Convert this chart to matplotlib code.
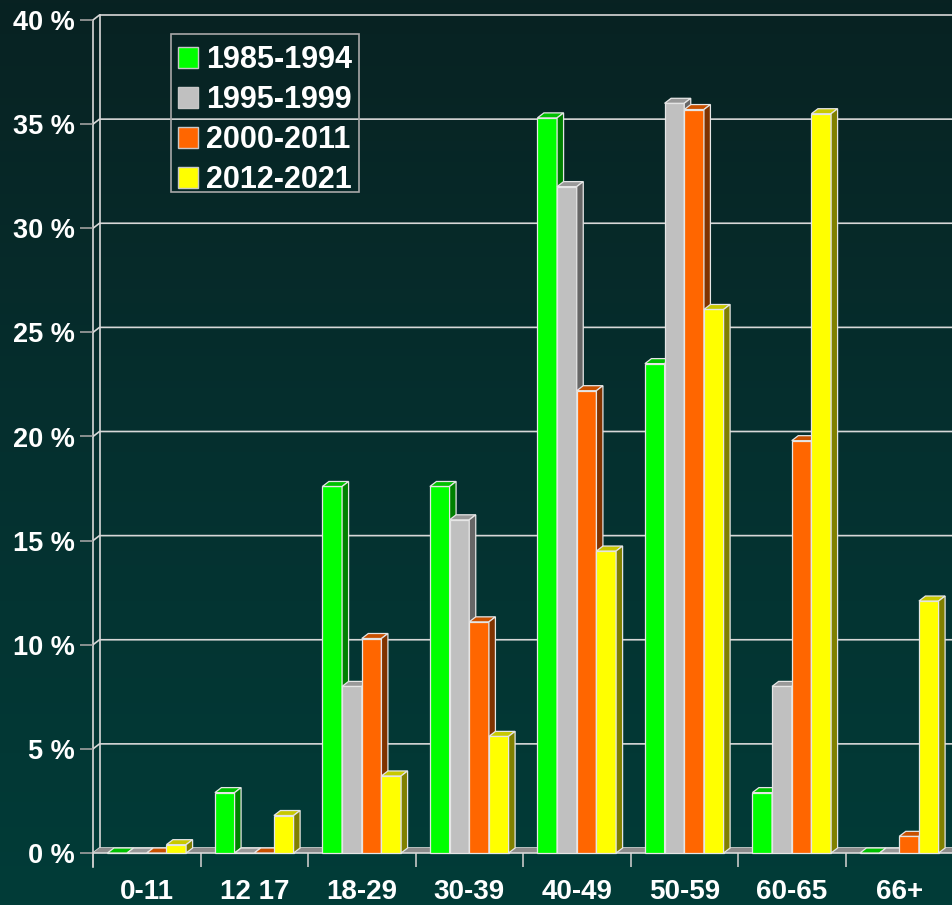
import numpy as np
import matplotlib
matplotlib.use("Agg")
import matplotlib.pyplot as plt
from matplotlib.patches import Polygon, Patch, Rectangle
from matplotlib.colors import LinearSegmentedColormap

categories = ["0-11", "12 17", "18-29", "30-39", "40-49", "50-59", "60-65", "66+"]
series_names = ["1985-1994", "1995-1999", "2000-2011", "2012-2021"]
s1985 = [0.0, 2.9, 17.6, 17.6, 35.3, 23.5, 2.9, 0.0]
s1995 = [0.0, 0.0, 8.0, 16.0, 32.0, 36.0, 8.0, 0.0]
s2000 = [0.0, 0.0, 10.3, 11.1, 22.2, 35.7, 19.8, 0.8]
s2012 = [0.4, 1.8, 3.7, 5.6, 14.5, 26.1, 35.5, 12.1]
yticks = [0, 5, 10, 15, 20, 25, 30, 35, 40]
ytick_labels = ["0 %", "5 %", "10 %", "15 %", "20 %", "25 %", "30 %", "35 %", "40 %"]

series = [s1985, s1995, s2000, s2012]
front_cols = ["#00ff00", "#c0c0c0", "#ff6600", "#ffff00"]
top_cols = ["#00c000", "#999999", "#c85000", "#c8c800"]
side_cols = ["#008000", "#666666", "#803300", "#808000"]

plt.rcParams['font.family'] = ['Liberation Sans', 'DejaVu Sans']
W, H = 952, 905
fig = plt.figure(figsize=(W / 100, H / 100), dpi=100)

# background gradient
bg = fig.add_axes([0, 0, 1, 1], zorder=-10)
cmap = LinearSegmentedColormap.from_list("bg", ["#082222", "#05302f", "#013c38"])
grad = np.linspace(0, 1, 256).reshape(-1, 1)
bg.imshow(grad, aspect="auto", cmap=cmap, extent=[0, 1, 0, 1], origin="upper")
bg.axis("off")

x0, y0, x1, y1 = 93, 853, 953, 20
ax = fig.add_axes([x0 / W, (H - y0) / H, (x1 - x0) / W, (y0 - y1) / H])
ax.set_facecolor("none")
ax.set_xlim(-0.5, 7.5)
ax.set_ylim(0, 40)
for s in ax.spines.values():
    s.set_visible(False)

px_x = 8.0 / (x1 - x0)          # data units per pixel
px_y = 40.0 / (y0 - y1)
dx = 6.5 * px_x
dy = 5.0 * px_y

grid_col = "#d8d8d8"
# back wall grid lines
for v in yticks:
    ax.plot([-0.5, -0.5 + dx, 8.0], [v, v + dy, v + dy], color=grid_col, lw=1.2,
            zorder=1, clip_on=False)
# left walls
ax.plot([-0.5, -0.5], [-14 * px_y, 40], color=grid_col, lw=1.2, zorder=1, clip_on=False)
ax.plot([-0.5 + dx, -0.5 + dx], [dy, 40 + dy], color=grid_col, lw=1.2, zorder=1, clip_on=False)
# floor
ax.add_patch(Polygon([(-0.5, 0), (8.0, 0), (8.0 + dx, dy), (-0.5 + dx, dy)],
                     closed=True, facecolor="#8c8c8c", edgecolor="none", zorder=1.5,
                     clip_on=False))
ax.plot([-0.5, 8.0], [0, 0], color=grid_col, lw=1.2, zorder=1.6, clip_on=False)

bw = 0.183
xs = np.arange(len(categories))
edge = "#e6e6e6"
for j, vals in enumerate(series):
    z = 3 + j
    pos = xs + (j - 1.5) * bw
    ax.bar(pos, vals, width=bw, color=front_cols[j], edgecolor=edge, linewidth=0.9,
           zorder=z, clip_on=False)
    for p, v in zip(pos, vals):
        l, r = p - bw / 2, p + bw / 2
        ax.add_patch(Polygon([(l, v), (r, v), (r + dx, v + dy), (l + dx, v + dy)],
                             closed=True, facecolor=top_cols[j], edgecolor=edge,
                             linewidth=0.9, zorder=z, clip_on=False))
        if v > 0:
            ax.add_patch(Polygon([(r, 0), (r + dx, dy), (r + dx, v + dy), (r, v)],
                                 closed=True, facecolor=side_cols[j], edgecolor=edge,
                                 linewidth=0.9, zorder=z, clip_on=False))

# y ticks
ax.set_yticks(yticks)
ax.set_yticklabels(ytick_labels)
ax.tick_params(axis="y", length=9.4, width=1.2, color="#a0a0a0", pad=4,
               labelsize=19.5, labelcolor="white")
for t in ax.get_yticklabels():
    t.set_fontweight("bold")

# x ticks
ax.set_xticks(xs)
ax.set_xticklabels(categories)
ax.set_xticks(np.arange(-0.5, 8.0, 1.0), minor=True)
ax.tick_params(axis="x", which="major", length=0, pad=18.5, labelsize=20,
               labelcolor="white")
ax.tick_params(axis="x", which="minor", length=10, width=1.2, color="#c8c8c8")
for t in ax.get_xticklabels():
    t.set_fontweight("bold")

# legend frame drawn separately
fig.add_artist(Rectangle((171 / W, 1 - 192 / H), 188 / W, 158 / H,
                         transform=fig.transFigure, fill=False,
                         edgecolor="#a8a8a8", linewidth=1.2, zorder=19))
handles = [Patch(facecolor=c, edgecolor="#c8c8c8", linewidth=1) for c in front_cols]
leg = fig.legend(handles, series_names, loc="upper left",
                 bbox_to_anchor=(178 / W, 1 - 45 / H), frameon=False,
                 prop={"weight": "bold", "size": 22}, labelcolor="white",
                 handlelength=0.66, handleheight=0.66, handletextpad=0.25,
                 labelspacing=0.33, borderpad=0, borderaxespad=0)
leg.set_zorder(20)

fig.savefig("out.png", dpi=100)
